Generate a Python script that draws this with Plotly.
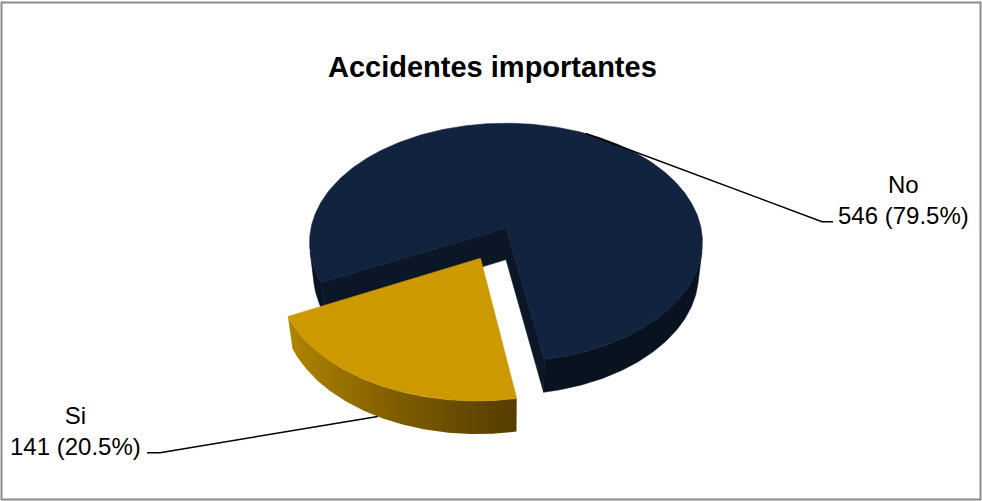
import numpy as np
import plotly.graph_objects as go

# ---- data ----
labels = ["No", "Si"]
values = [546, 141]
explode = [0.0, 0.28]          # radial pull-out, as a fraction of the radius
title_text = "Accidentes importantes"

# ---- styling ----
top_colors = ["#12233f", "#cc9a00"]
wall_colors = ["#09121f", None]
cut_colors = ["#0b1727", "#7a5a00"]
si_wall_scale = [[0.0, "#b08500"], [0.5, "#7c5b00"], [1.0, "#553c00"]]
FONT = "Liberation Sans, Arial, sans-serif"

# ---- simple perspective camera for a tilted disc ----
S, C = 0.622, 0.783            # sin / cos of the viewing elevation
DIST = 6.6                     # camera distance (in radii)
FOCAL = 1262.0                 # pixels per unit at unit depth
H = 0.207                      # pie thickness (in radii)
START = 10.0                   # angle where the first slice begins (deg)
ANCHOR = (506.0, 228.0)        # screen position of the top-face centre


def _raw(X, Y, Z):
    depth = DIST - Z * C - Y * S
    up = Y * C - Z * S
    return X * FOCAL / depth, -up * FOCAL / depth


_ax, _ay = _raw(0.0, H, 0.0)
OX, OY = ANCHOR[0] - _ax, ANCHOR[1] - _ay


def proj(X, Y, Z):
    x, y = _raw(np.asarray(X, float), np.asarray(Y, float), np.asarray(Z, float))
    return OX + x, OY + y


cam = np.array([0.0, DIST * S, DIST * C])

total = float(sum(values))
fracs = [v / total for v in values]
bounds = []
a = START
for f in fracs:
    bounds.append((a, a + 360.0 * f))
    a += 360.0 * f


def slice_offset(i):
    t0, t1 = bounds[i]
    mid = np.radians((t0 + t1) / 2)
    return explode[i] * np.sin(mid), explode[i] * np.cos(mid)


def visible_runs(t0, t1, ox, oz):
    th = np.linspace(t0, t1, int((t1 - t0) / 0.5) + 2)
    r = np.radians(th)
    nx, nz = np.sin(r), np.cos(r)
    px, pz = ox + nx, oz + nz
    vis = nx * (cam[0] - px) + nz * (cam[2] - pz) > 0
    runs, cur = [], []
    for t, v in zip(th, vis):
        if v:
            cur.append(t)
        elif cur:
            runs.append(cur)
            cur = []
    if cur:
        runs.append(cur)
    return [np.array(rr) for rr in runs if len(rr) > 1]


fig = go.Figure()


def add_poly(xs, ys, color=None, gradient=None):
    kw = dict(x=list(xs) + [xs[0]], y=list(ys) + [ys[0]], mode="lines",
              fill="toself", hoverinfo="skip", showlegend=False)
    if gradient is not None:
        kw["fillgradient"] = dict(type="horizontal", colorscale=gradient)
        kw["line"] = dict(width=0, color=gradient[-1][1])
    else:
        kw["fillcolor"] = color
        kw["line"] = dict(width=0.6, color=color)
    fig.add_trace(go.Scatter(**kw))


for i in range(len(values)):
    t0, t1 = bounds[i]
    ox, oz = slice_offset(i)

    # outer rim walls
    for run in visible_runs(t0, t1, ox, oz):
        r = np.radians(run)
        X, Z = ox + np.sin(r), oz + np.cos(r)
        xt, yt = proj(X, np.full_like(X, H), Z)
        xb, yb = proj(X, np.zeros_like(X), Z)
        xs = np.concatenate([xt, xb[::-1]])
        ys = np.concatenate([yt, yb[::-1]])
        if i == 1:
            add_poly(xs, ys, gradient=si_wall_scale)
        else:
            add_poly(xs, ys, color=wall_colors[i])

    # radial cut faces
    for t, sign in ((t0, -1), (t1, 1)):
        r = np.radians(t)
        n = np.array([sign * np.cos(r), -sign * np.sin(r)])
        if n[0] * (cam[0] - ox) + n[1] * (cam[2] - oz) <= 0:
            continue
        X = [ox, ox, ox + np.sin(r), ox + np.sin(r)]
        Y = [0.0, H, H, 0.0]
        Z = [oz, oz, oz + np.cos(r), oz + np.cos(r)]
        xs, ys = proj(X, Y, Z)
        add_poly(xs, ys, color=cut_colors[i])

    # top face
    th = np.radians(np.linspace(t0, t1, int((t1 - t0) / 0.5) + 2))
    X = np.concatenate([[ox], ox + np.sin(th)])
    Z = np.concatenate([[oz], oz + np.cos(th)])
    xs, ys = proj(X, np.full_like(X, H), Z)
    add_poly(xs, ys, color=top_colors[i])

# ---- data labels with leader lines ----
label_pos = [(903, 200, 833, 221.7, 822), (75, 431, 147, 452.7, 160)]
for i, (lx, ly, ex, ey, kx) in enumerate(label_pos):
    t0, t1 = bounds[i]
    ox, oz = slice_offset(i)
    m = np.radians((t0 + t1) / 2)
    yy = H if i == 0 else 0.0
    px, py = proj(ox + np.sin(m), yy, oz + np.cos(m))
    fig.add_trace(go.Scatter(x=[float(px), kx, ex], y=[float(py), ey, ey], mode="lines",
                             line=dict(color="black", width=1.5),
                             hoverinfo="skip", showlegend=False))
    fig.add_annotation(x=lx, y=ly, xref="x", yref="y", showarrow=False,
                       text=f"{labels[i]}<br>{values[i]} ({100 * values[i] / total:.1f}%)",
                       font=dict(family=FONT, size=24, color="black"),
                       xanchor="center", yanchor="middle", align="center")

fig.add_annotation(x=492, y=67, xref="x", yref="y", showarrow=False,
                   text=title_text,
                   font=dict(family=FONT, size=29, color="black", weight="bold"),
                   xanchor="center", yanchor="middle")

# outer frame
fig.add_shape(type="rect", xref="x", yref="y", x0=1.5, y0=2.5, x1=980.5, y1=499.5,
              line=dict(color="#8c8c8c", width=2), fillcolor="rgba(0,0,0,0)")

fig.update_layout(
    width=982, height=501,
    margin=dict(l=0, r=0, t=0, b=0),
    paper_bgcolor="white", plot_bgcolor="white",
    xaxis=dict(range=[0, 982], visible=False, fixedrange=True),
    yaxis=dict(range=[501, 0], visible=False, fixedrange=True),
    showlegend=False,
)

fig.write_html("out.html")
